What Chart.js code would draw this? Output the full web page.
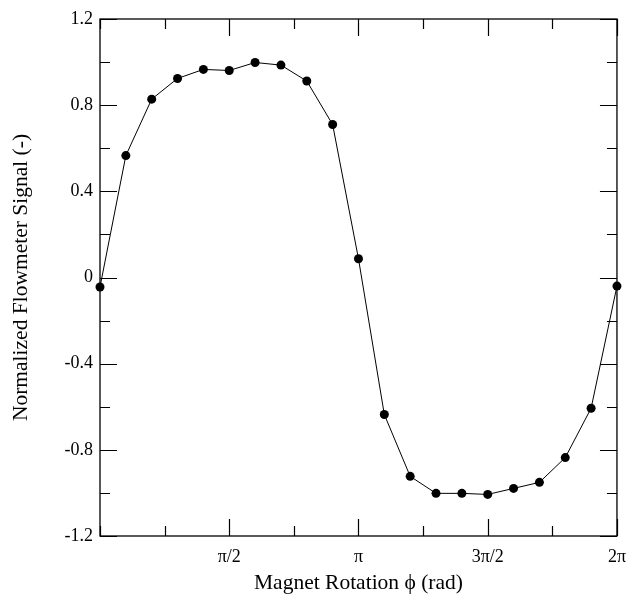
<!DOCTYPE html>
<html>
<head>
<meta charset="utf-8">
<script src="https://cdn.jsdelivr.net/npm/chart.js@4/dist/chart.umd.min.js"></script>
<style>
html, body { margin: 0; padding: 0; background: #fff; }
#wrap { width: 636px; height: 595px; }
</style>
</head>
<body>
<div id="wrap"><canvas id="flow"></canvas></div>
<script>
// magnet angle in degrees (plotted in radians)
var rotationDeg = [0, 18, 36, 54, 72, 90, 108, 126, 144, 162, 180,
    198, 216, 234, 252, 270, 288, 306, 324, 342, 360];
var signal = [-0.044, 0.566, 0.828, 0.924, 0.966, 0.961, 0.998, 0.986, 0.912, 0.710, 0.087,
    -0.636, -0.923, -1.002, -1.002, -1.007, -0.979, -0.951, -0.836, -0.607, -0.040];

var xTickDeg = [0, 45, 90, 135, 180, 225, 270, 315, 360];
var xTickLabels = ['', '', 'π/2', '', 'π', '', '3π/2', '', '2π'];
var yTickValues = [-1.2, -1.0, -0.8, -0.6, -0.4, -0.2, 0, 0.2, 0.4, 0.6, 0.8, 1.0, 1.2];
var yTickLabels = ['-1.2', '', '-0.8', '', '-0.4', '', '0', '', '0.4', '', '0.8', '', '1.2'];

var toRad = function(d) { return d * Math.PI / 180; };
var xTickRad = xTickDeg.map(toRad);

var points = [];
for (var i = 0; i < rotationDeg.length; i++) {
    points.push({x: toRad(rotationDeg[i]), y: signal[i]});
}

var serif = 'Liberation Serif';

// box round the plot with inward ticks on all four sides
var frameTicks = {
    id: 'frameTicks',
    beforeDatasetsDraw: function(chart) {
        var c = chart.ctx, a = chart.chartArea;
        var xs = chart.scales.x, ys = chart.scales.y;
        c.save();
        c.strokeStyle = '#000';
        c.lineWidth = 1.3;
        c.strokeRect(a.left, a.top, a.right - a.left, a.bottom - a.top);
        c.lineWidth = 1.2;
        c.beginPath();
        xTickRad.forEach(function(v, i) {
            var px = Math.round(xs.getPixelForValue(v)) + 0.5;
            var len = xTickLabels[i] ? 17 : 10;
            c.moveTo(px, a.bottom); c.lineTo(px, a.bottom - len);
            c.moveTo(px, a.top); c.lineTo(px, a.top + len);
        });
        yTickValues.forEach(function(v, i) {
            var py = Math.round(ys.getPixelForValue(v)) + 0.5;
            var len = yTickLabels[i] ? 17 : 10;
            c.moveTo(a.left, py); c.lineTo(a.left + len, py);
            c.moveTo(a.right, py); c.lineTo(a.right - len, py);
        });
        c.stroke();
        c.restore();
    }
};

var ctx = document.getElementById('flow').getContext('2d');
var flowChart = new Chart(ctx, {
    type: 'scatter',
    data: {
        datasets: [{
            label: 'Signal',
            data: points,
            showLine: true,
            borderColor: '#000',
            borderWidth: 1,
            pointRadius: 4.5,
            pointBackgroundColor: '#000',
            pointBorderWidth: 0,
            tension: 0,
            clip: false
        }]
    },
    options: {
        responsive: true,
        maintainAspectRatio: false,
        animation: false,
        layout: { padding: { top: 19, right: 19, left: 0, bottom: 0 } },
        plugins: {
            legend: { display: false },
            tooltip: { enabled: false }
        },
        scales: {
            x: {
                type: 'linear',
                min: 0,
                max: 2 * Math.PI,
                afterBuildTicks: function(s) {
                    s.ticks = xTickRad.map(function(v) { return {value: v}; });
                },
                afterFit: function(s) { s.height = 59; },
                grid: { display: false, drawTicks: false },
                border: { display: false },
                ticks: {
                    autoSkip: false,
                    maxRotation: 0,
                    padding: 10,
                    color: '#000',
                    font: { family: serif, size: 18 },
                    callback: function(v, i) { return xTickLabels[i]; }
                },
                title: {
                    display: true,
                    text: 'Magnet Rotation ϕ (rad)',
                    color: '#000',
                    font: { family: serif, size: 21.5 },
                    padding: { top: 0, bottom: -1 }
                }
            },
            y: {
                min: -1.2,
                max: 1.2,
                afterBuildTicks: function(s) {
                    s.ticks = yTickValues.map(function(v) { return {value: v}; });
                },
                afterFit: function(s) { s.width = 100; },
                grid: { display: false, drawTicks: false },
                border: { display: false },
                ticks: {
                    autoSkip: false,
                    padding: 7,
                    color: '#000',
                    font: { family: serif, size: 18 },
                    callback: function(v, i) { return yTickLabels[i]; }
                },
                title: {
                    display: true,
                    text: 'Normalized Flowmeter Signal (-)',
                    color: '#000',
                    font: { family: serif, size: 21.5 },
                    padding: { top: 8, bottom: 0 }
                }
            }
        }
    },
    plugins: [frameTicks]
});
</script>
</body>
</html>
